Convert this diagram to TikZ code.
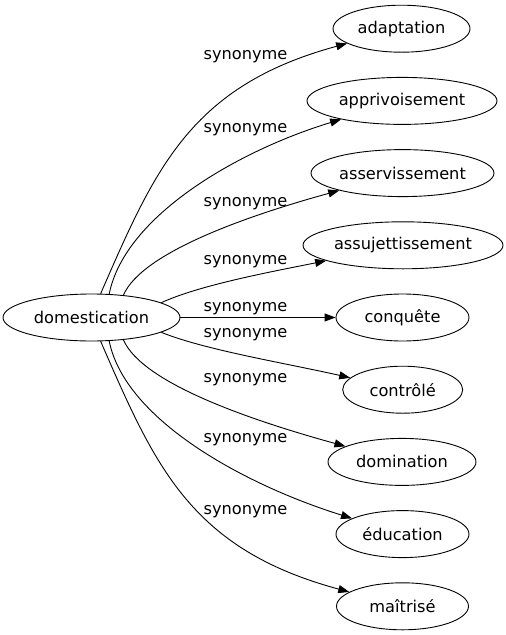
\documentclass[tikz,border=0pt]{standalone}
\usepackage{fontspec}
\setmainfont{DejaVu Sans}
\usetikzlibrary{arrows.meta,shapes.geometric}
\begin{document}
\begin{tikzpicture}[x=1pt,y=-1pt,
  every node/.style={font=\fontsize{16.2}{19}\selectfont},
  term/.style={draw, ellipse, line width=0.9pt, inner sep=0pt, minimum height=47pt},
  lbl/.style={anchor=base, inner sep=0pt},
  edge/.style={draw, line width=0.9pt, -{Triangle[length=11pt,width=8pt]}}]
\useasboundingbox (0,0) rectangle (506,635);
\node[term, minimum width=177pt] (dom) at (91.5,317.5) {domestication};
\node[term, minimum width=137pt] (adapt) at (401.5,28.7) {adaptation};
\node[term, minimum width=190pt] (appr) at (402,100.9) {apprivoisement};
\node[term, minimum width=183pt] (asserv) at (402.5,173.1) {asservissement};
\node[term, minimum width=200pt] (assuj) at (403,245.3) {assujettissement};
\node[term, minimum width=133pt] (conq) at (402.5,317.5) {conquête};
\node[term, minimum width=120pt] (contr) at (402.7,389.7) {contrôlé};
\node[term, minimum width=148pt] (domin) at (402,461.9) {domination};
\node[term, minimum width=133pt] (educ) at (402.5,534.1) {éducation};
\node[term, minimum width=132pt] (maitr) at (402.5,606.3) {maîtrisé};

\draw[edge] (dom.69.7) .. controls (155,169) and (190,86) .. (adapt);
\draw[edge] (dom.53.9) .. controls (125,215) and (240,150) .. (appr);
\draw[edge] (dom.35.3) .. controls (142,252) and (250,215) .. (asserv);
\draw[edge] (dom.12.9) .. controls (200,285) and (270,272) .. (assuj);
\draw[edge] (dom.east) -- (conq.west);
\draw[edge] (dom.-12.9) .. controls (205,350) and (285,363) .. (contr);
\draw[edge] (dom.-35.3) .. controls (142,383) and (250,420) .. (domin);
\draw[edge] (dom.-53.9) .. controls (125,420) and (245,485) .. (educ);
\draw[edge] (dom.-69.7) .. controls (155,466) and (190,549) .. (maitr);

\node[lbl] (l1) at (245.5,59) {synonyme};
\node[lbl] (l2) at (245.5,132) {synonyme};
\node[lbl] (l3) at (245.5,206) {synonyme};
\node[lbl] (l4) at (245.5,264) {synonyme};
\node[lbl] (l5) at (245.5,311) {synonyme};
\node[lbl] (l6) at (245.5,337) {synonyme};
\node[lbl] (l7) at (245.5,382) {synonyme};
\node[lbl] (l8) at (245.5,442) {synonyme};
\node[lbl] (l9) at (245.5,514) {synonyme};
\end{tikzpicture}
\end{document}
